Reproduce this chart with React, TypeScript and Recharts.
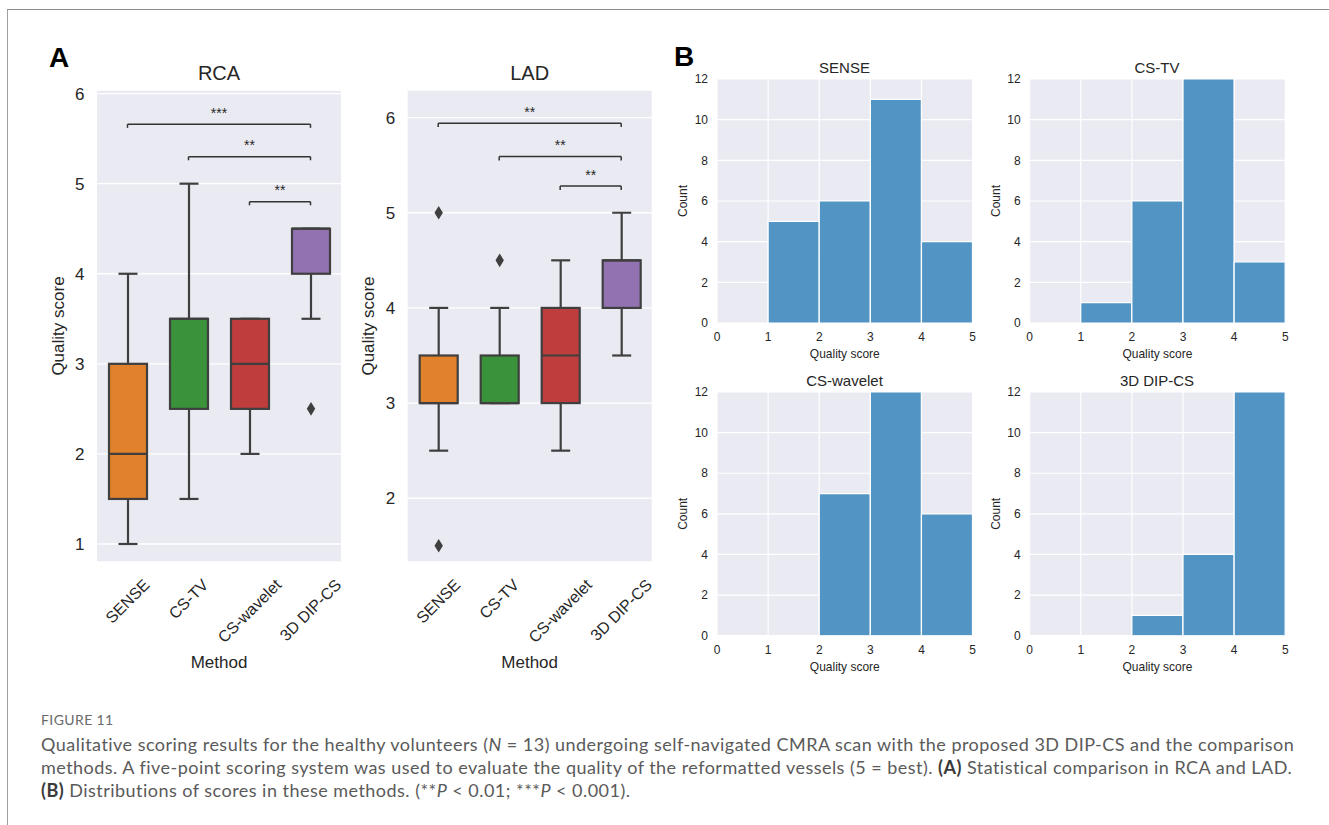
import React from 'react';
import { ComposedChart, BarChart, Bar, XAxis, YAxis, CartesianGrid, ReferenceLine } from 'recharts';

const FONT = '"Liberation Sans", Arial, Helvetica, sans-serif';
const CAPTION_FONT = 'Lato, "Open Sans", sans-serif';
const INK = '#262626';
const LINE = '#3f3f3f';
const BG = '#eaeaf2';

// ---------- Panel A data ----------
const methods = ['SENSE', 'CS-TV', 'CS-wavelet', '3D DIP-CS'];
const boxColors = ['#e1812c', '#3a923a', '#c03d3e', '#9372b2'];

const rcaLow = [1, 1.5, 2, 3.5];
const rcaQ1 = [1.5, 2.5, 2.5, 4];
const rcaMed = [2, 3.5, 3, 4.5];
const rcaQ3 = [3, 3.5, 3.5, 4.5];
const rcaHigh = [4, 5, 3.5, 4.5];
const rcaOutliers = [[], [], [], [2.5]];
const rcaTicks = [1, 2, 3, 4, 5, 6];
const rcaDomain = [0.8, 6.04];
const rcaBrackets = [
  { from: 'SENSE', to: '3D DIP-CS', y: 5.66, label: '***' },
  { from: 'CS-TV', to: '3D DIP-CS', y: 5.3, label: '**' },
  { from: 'CS-wavelet', to: '3D DIP-CS', y: 4.8, label: '**' },
];

const ladLow = [2.5, 3, 2.5, 3.5];
const ladQ1 = [3, 3, 3, 4];
const ladMed = [3, 3, 3.5, 4.5];
const ladQ3 = [3.5, 3.5, 4, 4.5];
const ladHigh = [4, 4, 4.5, 5];
const ladOutliers = [[5, 1.5], [4.5], [], []];
const ladTicks = [2, 3, 4, 5, 6];
const ladDomain = [1.33, 6.29];
const ladBrackets = [
  { from: 'SENSE', to: '3D DIP-CS', y: 5.94, label: '**' },
  { from: 'CS-TV', to: '3D DIP-CS', y: 5.59, label: '**' },
  { from: 'CS-wavelet', to: '3D DIP-CS', y: 5.28, label: '**' },
];

// ---------- Panel B data ----------
const binCenters = [0.5, 1.5, 2.5, 3.5, 4.5];
const histSense = [0, 5, 6, 11, 4];
const histCsTv = [0, 1, 6, 12, 3];
const histCsWavelet = [0, 0, 7, 12, 6];
const histDip = [0, 0, 1, 4, 12];
const histXTicks = [0, 1, 2, 3, 4, 5];
const histYTicks = [0, 2, 4, 6, 8, 10, 12];

let measureCtx: CanvasRenderingContext2D | null = null;
function textWidth(s: string, font: string): number {
  if (!measureCtx) measureCtx = document.createElement('canvas').getContext('2d');
  if (!measureCtx) return s.length * 9;
  measureCtx.font = font;
  return measureCtx.measureText(s).width;
}

function RotTick(props: any) {
  const { x, y, payload } = props;
  const label = String(payload.value);
  const fs = 16;
  const w = textWidth(label, `${fs}px "Liberation Sans"`);
  const capH = fs * 0.716;
  const cy = y + 16 + ((w + capH) * Math.SQRT1_2) / 2;
  return (
    <text
      x={x}
      y={cy}
      textAnchor="middle"
      dominantBaseline="central"
      transform={`rotate(-45 ${x} ${cy})`}
      fontSize={fs}
      fill={INK}
      fontFamily={FONT}
    >
      {label}
    </text>
  );
}

function BoxShape(props: any) {
  const { x, y, width, height, payload, index } = props;
  const top = Math.min(y, y + height);
  const bottom = Math.max(y, y + height);
  const span = payload.high - payload.low;
  const ppu = (bottom - top) / span;
  const Y = (v: number) => top + (payload.high - v) * ppu;
  const cx = x + width / 2;
  const half = width / 4;
  const sw = 2.2;
  const color = boxColors[index % boxColors.length];
  return (
    <g>
      <line x1={cx} x2={cx} y1={Y(payload.high)} y2={Y(payload.q3)} stroke={LINE} strokeWidth={sw} />
      <line x1={cx} x2={cx} y1={Y(payload.q1)} y2={Y(payload.low)} stroke={LINE} strokeWidth={sw} />
      <line x1={cx - half} x2={cx + half} y1={Y(payload.high)} y2={Y(payload.high)} stroke={LINE} strokeWidth={sw} />
      <line x1={cx - half} x2={cx + half} y1={Y(payload.low)} y2={Y(payload.low)} stroke={LINE} strokeWidth={sw} />
      <rect
        x={x}
        y={Y(payload.q3)}
        width={width}
        height={Y(payload.q1) - Y(payload.q3)}
        fill={color}
        stroke={LINE}
        strokeWidth={sw}
      />
      <line x1={x} x2={x + width} y1={Y(payload.med)} y2={Y(payload.med)} stroke={LINE} strokeWidth={sw} />
      {payload.outliers.map((o: number, k: number) => {
        const oy = Y(o);
        return (
          <path
            key={k}
            d={`M ${cx} ${oy - 6.8} L ${cx + 4.2} ${oy} L ${cx} ${oy + 6.8} L ${cx - 4.2} ${oy} Z`}
            fill={LINE}
          />
        );
      })}
    </g>
  );
}

type BoxProps = {
  left: number;
  width: number;
  marginLeft: number;
  yAxisWidth: number;
  low: number[];
  q1: number[];
  med: number[];
  q3: number[];
  high: number[];
  outliers: number[][];
  ticks: number[];
  domain: number[];
  brackets: { from: string; to: string; y: number; label: string }[];
};

function BoxPanel(p: BoxProps) {
  const rows = methods.map((name, i) => ({
    name,
    low: p.low[i],
    q1: p.q1[i],
    med: p.med[i],
    q3: p.q3[i],
    high: p.high[i],
    outliers: p.outliers[i],
  }));
  const tickLen = 0.04;
  return (
    <div style={{ position: 'absolute', left: p.left, top: 0, fontFamily: FONT }}>
      <ComposedChart
        width={p.width}
        height={672}
        data={rows}
        margin={{ top: 90, right: 4, bottom: 0, left: p.marginLeft }}
      >
        <CartesianGrid fill={BG} stroke="#ffffff" strokeWidth={1.3} vertical={false} />
        <XAxis
          dataKey="name"
          type="category"
          axisLine={false}
          tickLine={false}
          tickSize={0}
          tickMargin={0}
          height={110}
          interval={0}
          tick={<RotTick />}
          label={{ value: 'Method', position: 'insideBottom', offset: 4, fontSize: 17, fill: INK }}
        />
        <YAxis
          type="number"
          domain={p.domain}
          ticks={p.ticks}
          allowDataOverflow
          axisLine={false}
          tickLine={false}
          tickSize={0}
          tickMargin={12.5}
          width={p.yAxisWidth}
          tick={{ fontSize: 17, fill: INK }}
          label={{ value: 'Quality score', angle: -90, position: 'center', fontSize: 17, fill: INK }}
        />
        <Bar
          dataKey={(d: any) => [d.low, d.high]}
          barSize={38}
          shape={<BoxShape />}
          isAnimationActive={false}
        />
        {p.brackets.map((b, i) => (
          <ReferenceLine
            key={`h${i}`}
            segment={[
              { x: b.from, y: b.y },
              { x: b.to, y: b.y },
            ]}
            stroke="#333333"
            strokeWidth={1.5}
            ifOverflow="visible"
            label={{ value: b.label, position: 'top', offset: 6.5, fontSize: 14, fill: INK }}
          />
        ))}
        {p.brackets.map((b, i) => (
          <ReferenceLine
            key={`l${i}`}
            segment={[
              { x: b.from, y: b.y },
              { x: b.from, y: b.y - tickLen },
            ]}
            stroke="#333333"
            strokeWidth={1.5}
            ifOverflow="visible"
          />
        ))}
        {p.brackets.map((b, i) => (
          <ReferenceLine
            key={`r${i}`}
            segment={[
              { x: b.to, y: b.y },
              { x: b.to, y: b.y - tickLen },
            ]}
            stroke="#333333"
            strokeWidth={1.5}
            ifOverflow="visible"
          />
        ))}
      </ComposedChart>
    </div>
  );
}

type HistProps = {
  plotLeft: number;
  plotRight: number;
  plotTop: number;
  plotBottom: number;
  labelX: number;
  counts: number[];
};

function HistPanel(p: HistProps) {
  const yAxisW = 2 * (p.plotLeft - p.labelX);
  const divLeft = p.plotLeft - yAxisW - 5;
  const divTop = p.plotTop - 30;
  const xAxisH = 40;
  const w = p.plotRight - divLeft + 5;
  const h = p.plotBottom - divTop + xAxisH;
  const rows = binCenters.map((x, i) => ({ x, count: p.counts[i] }));
  return (
    <div style={{ position: 'absolute', left: divLeft, top: divTop, fontFamily: FONT }}>
      <BarChart
        width={w}
        height={h}
        data={rows}
        margin={{ top: 30, right: 5, bottom: 0, left: 5 }}
        barCategoryGap={0}
        barGap={0}
      >
        <CartesianGrid fill={BG} stroke="#ffffff" strokeWidth={1.2} />
        <XAxis
          dataKey="x"
          type="number"
          domain={[0, 5]}
          ticks={histXTicks}
          axisLine={false}
          tickLine={false}
          tickSize={0}
          tickMargin={9.5}
          height={xAxisH}
          tick={{ fontSize: 12, fill: INK }}
          label={{ value: 'Quality score', position: 'insideBottom', offset: 5, fontSize: 12, fill: INK }}
        />
        <YAxis
          type="number"
          domain={[0, 12]}
          ticks={histYTicks}
          allowDataOverflow
          axisLine={false}
          tickLine={false}
          tickSize={0}
          tickMargin={9}
          width={yAxisW}
          tick={{ fontSize: 12, fill: INK }}
          label={{ value: 'Count', angle: -90, position: 'center', fontSize: 12, fill: INK }}
        />
        <Bar dataKey="count" fill="#5294c4" stroke="#ffffff" strokeWidth={1.2} isAnimationActive={false} />
      </BarChart>
    </div>
  );
}

function Txt(props: {
  x: number;
  y: number;
  size: number;
  weight?: number;
  anchor?: 'start' | 'middle';
  color?: string;
  children: React.ReactNode;
}) {
  const tx = props.anchor === 'start' ? '0' : '-50%';
  return (
    <div
      style={{
        position: 'absolute',
        left: props.x,
        top: props.y,
        transform: `translate(${tx}, -50%)`,
        fontFamily: FONT,
        fontSize: props.size,
        fontWeight: props.weight ?? 400,
        lineHeight: 1,
        color: props.color ?? INK,
        whiteSpace: 'nowrap',
      }}
    >
      {props.children}
    </div>
  );
}

function CapLine(props: { y: number; children: React.ReactNode }) {
  return (
    <div
      style={{
        position: 'absolute',
        left: 41,
        top: props.y,
        transform: 'translateY(-50%)',
        fontFamily: CAPTION_FONT,
        fontSize: 18,
        letterSpacing: 0.47,
        lineHeight: 1.2,
        color: '#5a5a5a',
        whiteSpace: 'nowrap',
      }}
    >
      {props.children}
    </div>
  );
}

export default function App() {
  return (
    <div
      style={{
        position: 'absolute',
        left: 0,
        top: 0,
        width: 1329,
        height: 825,
        background: '#ffffff',
        overflow: 'hidden',
      }}
    >
      <div
        style={{
          position: 'absolute',
          left: 7,
          top: 9,
          width: 1340,
          height: 900,
          borderTop: '1.5px solid #8c8c8c',
          borderLeft: '1px solid #a0a0a0',
        }}
      />

      <BoxPanel
        left={0}
        width={345}
        marginLeft={19}
        yAxisWidth={78}
        low={rcaLow}
        q1={rcaQ1}
        med={rcaMed}
        q3={rcaQ3}
        high={rcaHigh}
        outliers={rcaOutliers}
        ticks={rcaTicks}
        domain={rcaDomain}
        brackets={rcaBrackets}
      />
      <BoxPanel
        left={320}
        width={335.7}
        marginLeft={8.3}
        yAxisWidth={79.4}
        low={ladLow}
        q1={ladQ1}
        med={ladMed}
        q3={ladQ3}
        high={ladHigh}
        outliers={ladOutliers}
        ticks={ladTicks}
        domain={ladDomain}
        brackets={ladBrackets}
      />

      <HistPanel plotLeft={716.7} plotRight={972.3} plotTop={79.3} plotBottom={323.3} labelX={682.7} counts={histSense} />
      <HistPanel plotLeft={1029.3} plotRight={1285} plotTop={79.3} plotBottom={323.3} labelX={995} counts={histCsTv} />
      <HistPanel plotLeft={716.7} plotRight={972.3} plotTop={392.3} plotBottom={636} labelX={682.7} counts={histCsWavelet} />
      <HistPanel plotLeft={1029.3} plotRight={1285} plotTop={392.3} plotBottom={636} labelX={995} counts={histDip} />

      <Txt x={49} y={58} size={28} weight={700} anchor="start" color="#000">A</Txt>
      <Txt x={674} y={57} size={28} weight={700} anchor="start" color="#000">B</Txt>
      <Txt x={219} y={72.7} size={20}>RCA</Txt>
      <Txt x={529.7} y={72.7} size={20}>LAD</Txt>
      <Txt x={844.5} y={66.7} size={15}>SENSE</Txt>
      <Txt x={1157} y={66.7} size={15}>CS-TV</Txt>
      <Txt x={844.5} y={380} size={15}>CS-wavelet</Txt>
      <Txt x={1157} y={380} size={15}>3D DIP-CS</Txt>

      <div
        style={{
          position: 'absolute',
          left: 41,
          top: 720,
          transform: 'translateY(-50%)',
          fontFamily: CAPTION_FONT,
          fontSize: 14,
          letterSpacing: 0.4,
          lineHeight: 1.2,
          color: '#6a6a6a',
          whiteSpace: 'nowrap',
        }}
      >
        FIGURE 11
      </div>
      <CapLine y={745}>
        Qualitative scoring results for the healthy volunteers (<i>N</i> = 13) undergoing self-navigated CMRA scan
        with the proposed 3D DIP-CS and the comparison
      </CapLine>
      <CapLine y={768}>
        methods. A five-point scoring system was used to evaluate the quality of the reformatted vessels (5 = best).{' '}
        <b style={{ color: '#3a3a3a' }}>(A)</b> Statistical comparison in RCA and LAD.
      </CapLine>
      <CapLine y={791}>
        <b style={{ color: '#3a3a3a' }}>(B)</b> Distributions of scores in these methods. (**<i>P</i> &lt; 0.01; ***
        <i>P</i> &lt; 0.001).
      </CapLine>
    </div>
  );
}
